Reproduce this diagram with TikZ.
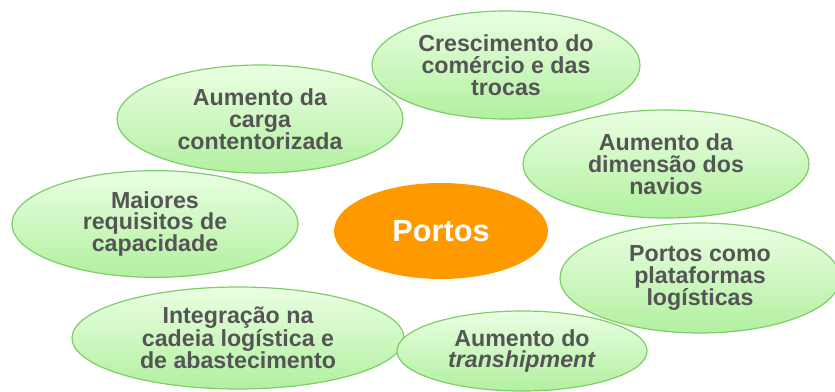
\documentclass[tikz,border=0pt]{standalone}
\usepackage{fontspec}
\setmainfont{Liberation Sans}
\usetikzlibrary{shapes.geometric}
\definecolor{bubbletop}{RGB}{234,255,226}
\definecolor{bubbleline}{RGB}{125,205,105}
\definecolor{bubblebottom}{RGB}{178,240,160}
\definecolor{textgray}{RGB}{85,85,85}
\definecolor{portorange}{RGB}{255,153,0}

\begin{document}
\begin{tikzpicture}[x=0.75pt, y=-0.75pt,
    bubble/.style={ellipse, draw=bubbleline, line width=0.9pt, top color=bubbletop, bottom color=bubblebottom, inner sep=0pt, align=center, text=textgray, font=\fontsize{17.4}{16.4}\selectfont\bfseries},
    hub/.style={ellipse, fill=portorange, inner sep=0pt, text=white, font=\fontsize{23}{24}\selectfont\bfseries}
]
    \useasboundingbox (0,0) rectangle (835,392);

    \node[bubble, minimum width=214.5pt, minimum height=81pt] (carga) at (260,119) {Aumento da\\carga\\contentorizada};
    \node[bubble, minimum width=201pt, minimum height=81pt] (comercio) at (506,65) {Crescimento do\\comércio e das\\trocas};
    \node[bubble, minimum width=214.5pt, minimum height=81pt] (navios) at (666,164) {Aumento da\\dimensão dos\\navios};
    \node[bubble, minimum width=214.5pt, minimum height=80pt] (capacidade) at (155,224) {Maiores\\requisitos de\\capacidade};
    \node[bubble, minimum width=210pt, minimum height=82.5pt] (plataformas) at (700,278) {Portos como\\plataformas\\logísticas};
    \node[bubble, minimum width=249pt, minimum height=76.5pt] (integracao) at (238,338) {Integração na\\cadeia logística e\\de abastecimento};
    \node[bubble, minimum width=187.5pt, minimum height=60pt] (transhipment) at (522,351) {Aumento do\\\textit{transhipment}};

    \node[hub, minimum width=160.5pt, minimum height=72pt] (portos) at (441,231) {Portos};
\end{tikzpicture}
\end{document}
